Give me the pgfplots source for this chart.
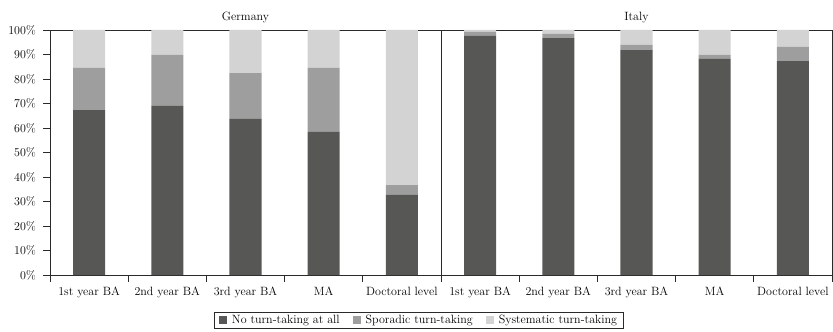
\documentclass[border=0pt]{standalone}
\usepackage{pgfplots}
\pgfplotsset{compat=1.18}
\definecolor{cdark}{HTML}{575755}
\definecolor{cmid}{HTML}{9E9E9E}
\definecolor{clight}{HTML}{D3D3D3}
\definecolor{caxis}{HTML}{2A2A2A}
\begin{document}
\fontsize{12bp}{14bp}\selectfont
\begin{tikzpicture}
\begin{axis}[
  name=ax,
  scale only axis,
  width=782bp, height=245bp,
  ybar stacked,
  bar width=0.41,
  xmin=-0.5, xmax=9.5,
  ymin=0, ymax=100,
  axis line style={caxis, line width=0.8bp},
  tick style={caxis, line width=0.8bp},
  tick align=outside,
  major tick length=7bp,
  minor tick length=7bp,
  xtick={0,...,9},
  xticklabels={1st year BA,2nd year BA,3rd year BA,MA,Doctoral level,1st year BA,2nd year BA,3rd year BA,MA,Doctoral level},
  major x tick style={draw=none},
  minor xtick={-0.5,0.5,...,9.5},
  ytick={0,10,...,100},
  yticklabel={\pgfmathparse{int(\tick)}\pgfmathresult\%},
  ytick pos=left,
  xtick pos=bottom,
  xticklabel style={font=\fontsize{12bp}{14bp}\selectfont, yshift=-1bp},
  yticklabel style={font=\fontsize{12bp}{14bp}\selectfont, xshift=-3bp},
  legend style={at={(0.4712,-0.151)}, anchor=north, legend columns=3, draw=caxis, line width=0.6bp,
    font=\fontsize{12bp}{14bp}\selectfont, inner xsep=5bp, inner ysep=2bp,
    nodes={inner sep=1bp},
    /tikz/every odd column/.append style={column sep=4bp},
    /tikz/every even column/.append style={column sep=12bp}},
  legend image code/.code={\fill[#1] (0bp,-4bp) rectangle (8bp,4bp);},
  clip=false,
]
\addplot[fill=cdark, draw=none] coordinates {
 (0,67.3) (1,69.0) (2,63.7) (3,58.4) (4,32.7)
 (5,97.6) (6,96.7) (7,91.8) (8,88.2) (9,87.3)};
\addplot[fill=cmid, draw=none] coordinates {
 (0,17.2) (1,20.8) (2,18.7) (3,26.1) (4,4.0)
 (5,1.6) (6,1.7) (7,2.1) (8,1.6) (9,5.8)};
\addplot[fill=clight, draw=none] coordinates {
 (0,15.5) (1,10.2) (2,17.6) (3,15.5) (4,63.3)
 (5,0.8) (6,1.6) (7,6.1) (8,10.2) (9,6.9)};
\legend{No turn-taking at all, Sporadic turn-taking, Systematic turn-taking}
\draw[caxis, line width=0.8bp] (axis cs:4.5,0) -- (axis cs:4.5,100);
\node[anchor=south, inner sep=0pt, font=\fontsize{12bp}{14bp}\selectfont] at ([yshift=7bp]axis cs:2,100) {Germany};
\node[anchor=south, inner sep=0pt, font=\fontsize{12bp}{14bp}\selectfont] at ([yshift=7bp]axis cs:7,100) {Italy};
\end{axis}
\pgfresetboundingbox
\path[use as bounding box] ([xshift=-50bp,yshift=-56bp]ax.south west) rectangle ([xshift=1bp,yshift=30bp]ax.north east);
\end{tikzpicture}
\end{document}
